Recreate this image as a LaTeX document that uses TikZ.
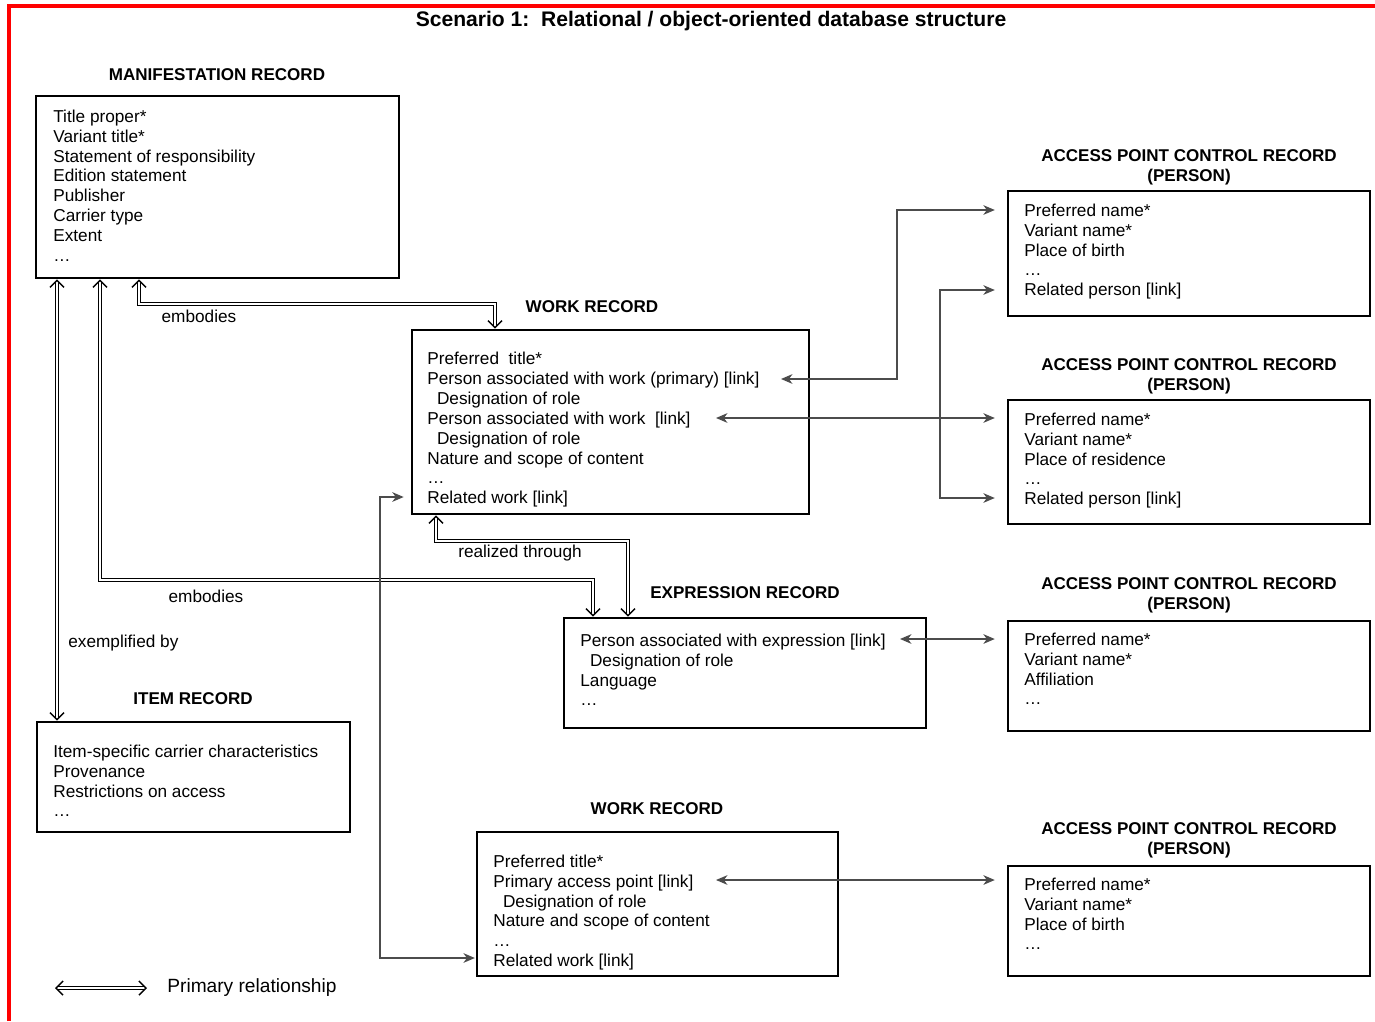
\documentclass[tikz,border=0pt]{standalone}
\usepackage{fontspec}
\setmainfont{Liberation Sans}
\usetikzlibrary{arrows.meta, calc}
\newcommand{\rolepad}{\hspace*{5.5pt}}

\begin{document}
\begin{tikzpicture}[
x=0.02cm, y=-0.02cm,
rec/.style={
	rectangle,
	draw,
	line width=1.5pt,
	inner sep=0pt},
fields/.style={
	anchor=north west,
	inner sep=0pt,
	align=left,
	font=\fontsize{9.8}{11.3}\selectfont},
head/.style={
	inner sep=0pt,
	align=center,
	font=\bfseries\fontsize{9.7}{11.3}\selectfont},
prim/.style={
	draw,
	double,
	double distance=1.5pt,
	line width=0.6pt,
	{Straight Barb[length=4pt,width=8pt,line width=0.8pt]}-{Straight Barb[length=4pt,width=8pt,line width=0.8pt]}},
link/.style={
	draw,
	line width=0.8pt,
	color=black!70,
	>={Stealth[length=6.5pt,width=5.5pt,inset=2pt]}},
rel/.style={
	inner sep=0pt,
	font=\fontsize{9.8}{11.3}\selectfont}]

\useasboundingbox (0,0) rectangle (1375,1021);

%Frame
\draw[red, line width=2pt] (9,1021) -- (9,6) -- (1375,6);

\node[font=\bfseries\fontsize{12}{14}\selectfont, inner sep=0pt] (title) at (711,21)
	{Scenario 1:\ \ Relational / object-oriented database structure};

%Records
\node[rec, minimum width=7.26cm, minimum height=3.64cm] (man) at (217.5,187) {};
\node[head] (hman) at (217,75) {MANIFESTATION RECORD};
\node[fields] (fman) at (53,109.5) {Title proper*\\Variant title*\\Statement of responsibility\\Edition statement\\Publisher\\Carrier type\\Extent\\\ldots};

\node[rec, minimum width=7.94cm, minimum height=3.68cm] (work) at (610.5,422) {};
\node[head] (hwork) at (592,307) {WORK RECORD};
\node[fields] (fwork) at (427,352) {Preferred\ \ title*\\Person associated with work (primary) [link]\\\rolepad Designation of role\\Person associated with work\ \ [link]\\\rolepad Designation of role\\Nature and scope of content\\\ldots\\Related work [link]};

\node[rec, minimum width=7.24cm, minimum height=2.2cm] (expr) at (745,673) {};
\node[head] (hexpr) at (745,593) {EXPRESSION RECORD};
\node[fields] (fexpr) at (580,633.5) {Person associated with expression [link]\\\rolepad Designation of role\\Language\\\ldots};

\node[rec, minimum width=6.26cm, minimum height=2.2cm] (item) at (193.5,777) {};
\node[head] (hitem) at (193,699) {ITEM RECORD};
\node[fields] (fitem) at (53,744.5) {Item-specific carrier characteristics\\Provenance\\Restrictions on access\\\ldots};

\node[rec, minimum width=7.22cm, minimum height=2.88cm] (workb) at (657.5,904) {};
\node[head] (hworkb) at (657,809) {WORK RECORD};
\node[fields] (fworkb) at (493,854.5) {Preferred title*\\Primary access point [link]\\\rolepad Designation of role\\Nature and scope of content\\\ldots\\Related work [link]};

%Access point records
\node[rec, minimum width=7.24cm, minimum height=2.5cm] (apa) at (1189,253.5) {};
\node[head] (hapa) at (1189,167) {ACCESS POINT CONTROL RECORD\\(PERSON)};
\node[fields] (fapa) at (1024,203.5) {Preferred name*\\Variant name*\\Place of birth\\\ldots\\Related person [link]};

\node[rec, minimum width=7.24cm, minimum height=2.48cm] (apb) at (1189,462) {};
\node[head] (hapb) at (1189,376) {ACCESS POINT CONTROL RECORD\\(PERSON)};
\node[fields] (fapb) at (1024,412.5) {Preferred name*\\Variant name*\\Place of residence\\\ldots\\Related person [link]};

\node[rec, minimum width=7.24cm, minimum height=2.2cm] (apc) at (1189,676) {};
\node[head] (hapc) at (1189,595) {ACCESS POINT CONTROL RECORD\\(PERSON)};
\node[fields] (fapc) at (1024,632.5) {Preferred name*\\Variant name*\\Affiliation\\\ldots};

\node[rec, minimum width=7.24cm, minimum height=2.2cm] (apd) at (1189,921) {};
\node[head] (hapd) at (1189,840) {ACCESS POINT CONTROL RECORD\\(PERSON)};
\node[fields] (fapd) at (1024,877.5) {Preferred name*\\Variant name*\\Place of birth\\\ldots};

%Primary relationships
\draw[prim] (man.south -| 139,0) -- (139,304) -- (495,304) -- (work.north -| 495,0);
\node[rel] (lemba) at (199,316) {embodies};

\draw[prim] (man.south -| 100,0) -- (100,580) -- (593,580) -- (expr.north -| 593,0);
\node[rel] (lembb) at (206,596) {embodies};

\draw[prim] (man.south -| 57,0) -- (item.north -| 57,0);
\node[rel, anchor=west] (lexem) at (68,643) {exemplified by};

\draw[prim] (work.south -| 436,0) -- (436,541) -- (628,541) -- (expr.north -| 628,0);
\node[rel] (lreal) at (520,553) {realized through};

%Links
\coordinate (pprim) at (781,379);
\coordinate (psec) at (716,418);
\coordinate (pexpr) at (900,639);
\coordinate (pworkb) at (716,880);

\path[link, <->, shorten >=6.8pt] (pprim) -- (897,379) -- (897,210) -- (apa.west |- 0,210);
\path[link, <->, shorten >=6.8pt] (psec) -- (apb.west |- 0,418);
\path[link, <->, shorten >=6.8pt, shorten <=6.8pt] (apa.west |- 0,290) -- (940,290) -- (940,498) -- (apb.west |- 0,498);
\path[link, <->, shorten >=6.8pt] (pexpr) -- (apc.west |- 0,639);
\path[link, <->, shorten >=6.8pt] (pworkb) -- (apd.west |- 0,880);
\path[link, <->, shorten <=4pt, shorten >=0.5pt] (work.west |- 0,497) -- (380,497) -- (380,958) -- (workb.west |- 0,958);

%Legend
\coordinate (lega) at (55,988);
\coordinate (legb) at (147,988);
\draw[prim] (lega) -- (legb);
\node[anchor=west, inner sep=0pt, font=\fontsize{10.9}{13}\selectfont] (legtext) at (167,988) {Primary relationship};

\end{tikzpicture}
\end{document}
